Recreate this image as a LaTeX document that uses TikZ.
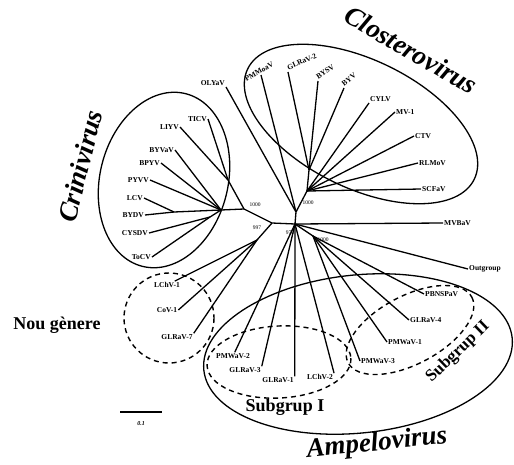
\documentclass[tikz,border=0pt]{standalone}
\usepackage{fontspec}
\setmainfont{Liberation Serif}

\begin{document}
\begin{tikzpicture}[x=1pt, y=-1pt,
    branch/.style={line width=1.3pt, line join=round},
    leaf/.style={font=\bfseries\fontsize{7.5}{8}\selectfont, inner sep=1pt},
    boot/.style={font=\fontsize{5.5}{6}\selectfont, inner sep=0.5pt},
    genus/.style={font=\bfseries\itshape\fontsize{27}{27}\selectfont, inner sep=0pt},
    group/.style={font=\bfseries\fontsize{18}{18}\selectfont, inner sep=0pt},
    clade/.style={line width=1.3pt},
    subclade/.style={line width=1.4pt, dash pattern=on 5pt off 4pt}]
  \useasboundingbox (0,0) rectangle (514,464);

  % inner nodes
  \coordinate (n970) at (295,224);
  \coordinate (n997) at (272,223);
  \coordinate (cr1000) at (244,209);
  \coordinate (crA) at (228,180);
  \coordinate (cr0) at (221,210);
  \coordinate (crB) at (174,212);
  \coordinate (crC) at (210,217);
  \coordinate (c0) at (296,212);
  \coordinate (c1) at (307,191);
  \coordinate (c2) at (309,170);
  \coordinate (ng0) at (257,240);
  \coordinate (a1) at (313,236);

  % Closterovirus
  \node[leaf, anchor=south east] (olyav) at (226,87) {OLYaV};
  \node[leaf, anchor=south, rotate=30] (pmmoav) at (261,75) {PMMoaV};
  \node[leaf, anchor=south west, rotate=24] (glrav2) at (288,72) {GLRaV-2};
  \node[leaf, anchor=south west, rotate=34] (bysv) at (318,81) {BYSV};
  \node[leaf, anchor=south west, rotate=38] (byv) at (344,88) {BYV};
  \node[leaf, anchor=south west] (cylv) at (369,103) {CYLV};
  \node[leaf, anchor=west] (mv1) at (395,112) {MV-1};
  \node[leaf, anchor=west] (ctv) at (414,136) {CTV};
  \node[leaf, anchor=west] (rlmov) at (418,163) {RLMoV};
  \node[leaf, anchor=west] (scfav) at (421,189) {SCFaV};
  \node[leaf, anchor=west] (mvbav) at (443,223) {MVBaV};

  % Crinivirus
  \node[leaf, anchor=east] (ticv) at (208,119) {TICV};
  \node[leaf, anchor=east] (liyv) at (180,127) {LIYV};
  \node[leaf, anchor=east] (byvav) at (175,150) {BYVaV};
  \node[leaf, anchor=east] (bpyv) at (161,163) {BPYV};
  \node[leaf, anchor=east] (pyvv) at (150,180) {PYVV};
  \node[leaf, anchor=east] (lcv) at (144,198) {LCV};
  \node[leaf, anchor=east] (bydv) at (145,215) {BYDV};
  \node[leaf, anchor=east] (cysdv) at (149,233) {CYSDV};
  \node[leaf, anchor=east] (tocv) at (152,257) {ToCV};

  % Nou genere
  \node[leaf] (lchv1) at (167,285) {LChV-1};
  \node[leaf] (cov1) at (167,310) {CoV-1};
  \node[leaf] (glrav7) at (177,337) {GLRaV-7};

  % Ampelovirus
  \node[leaf] (pmwav2) at (233,356) {PMWaV-2};
  \node[leaf] (glrav3) at (245,370) {GLRaV-3};
  \node[leaf] (glrav1) at (278,380) {GLRaV-1};
  \node[leaf] (lchv2) at (320,377) {LChV-2};
  \node[leaf, anchor=west] (pbnspav) at (424,294) {PBNSPaV};
  \node[leaf, anchor=west] (glrav4) at (409,320) {GLRaV-4};
  \node[leaf, anchor=west] (pmwav1) at (387,342) {PMWaV-1};
  \node[leaf, anchor=west] (pmwav3) at (360,361) {PMWaV-3};
  \node[leaf, anchor=west] (outgroup) at (468,269) {Outgroup};

  % branches
  \draw[branch] (cr1000) -- (n997) -- (n970) -- (c0) -- (c1) -- (c2);
  \draw[branch] (c0) -- (olyav.south east);
  \draw[branch] (c0) -- (pmmoav.south);
  \foreach \leaf in {glrav2,bysv,byv}
    \draw[branch] (c2) -- (\leaf.south west);
  \draw[branch] (c1) -- (cylv.south west);
  \foreach \leaf in {mv1,ctv,rlmov,scfav}
    \draw[branch] (c1) -- (\leaf.west);
  \draw[branch] (n970) -- (mvbav.west);
  \draw[branch] (cr1000) -- (crA) -- (liyv.east);
  \draw[branch] (crA) -- (ticv.east);
  \draw[branch] (cr1000) -- (cr0) -- (crB) -- (bydv.east);
  \draw[branch] (crB) -- (lcv.east);
  \foreach \leaf in {byvav,bpyv,pyvv}
    \draw[branch] (cr0) -- (\leaf.east);
  \draw[branch] (cr0) -- (crC) -- (cysdv.east);
  \draw[branch] (crC) -- (tocv.east);
  \draw[branch] (n997) -- (ng0) -- (lchv1);
  \draw[branch] (ng0) -- (cov1.east);
  \draw[branch] (ng0) -- (glrav7.north east);
  \draw[branch] (n970) -- (pmwav2);
  \foreach \leaf in {glrav3,glrav1,lchv2}
    \draw[branch] (n970) -- (\leaf.north east);
  \draw[branch] (n970) -- (a1);
  \foreach \leaf in {pbnspav,glrav4,pmwav1,pmwav3}
    \draw[branch] (a1) -- (\leaf.west);
  \draw[branch] (n970) -- (outgroup.west);

  % bootstrap values
  \node[boot] (bcr) at (255,205) {1000};
  \node[boot] (b997) at (257,228) {997};
  \node[boot] (b970) at (290,233) {970};
  \node[boot] (bcl) at (308,203) {1000};
  \node[boot] (bam) at (323,240) {1000};

  % clades
  \draw[clade, rotate around={-26:(361,124)}] (361,124) ellipse [x radius=126, y radius=64];
  \draw[clade, rotate around={-14:(164,180)}] (164,180) ellipse [x radius=64, y radius=89];
  \draw[clade, rotate around={6:(358,354)}] (358,354) ellipse [x radius=155, y radius=79];
  \draw[subclade] (169,318) circle [radius=45];
  \draw[subclade, rotate around={3:(279,362)}] (279,362) ellipse [x radius=72, y radius=36];
  \draw[subclade, rotate around={28:(410,330)}] (410,330) ellipse [x radius=70, y radius=34];

  \node[genus, rotate=-30] (closterovirus) at (411,50) {Closterovirus};
  \node[genus, rotate=76] (crinivirus) at (80,166) {Crinivirus};
  \node[genus, rotate=6] (ampelovirus) at (377,444) {Ampelovirus};
  \node[group] (nougenere) at (57,325) {Nou gènere};
  \node[group] (subgrup1) at (285,407) {Subgrup I};
  \node[group, rotate=44, font=\bfseries\fontsize{17}{17}\selectfont] (subgrup2) at (458,352) {Subgrup II};

  % scale
  \coordinate (sb0) at (120,412);
  \coordinate (sb1) at (162,412);
  \draw[line width=2.2pt] (sb0) -- (sb1);
  \node[font=\bfseries\itshape\fontsize{6}{6}\selectfont] (sblabel) at (141,424) {0.1};
\end{tikzpicture}
\end{document}
